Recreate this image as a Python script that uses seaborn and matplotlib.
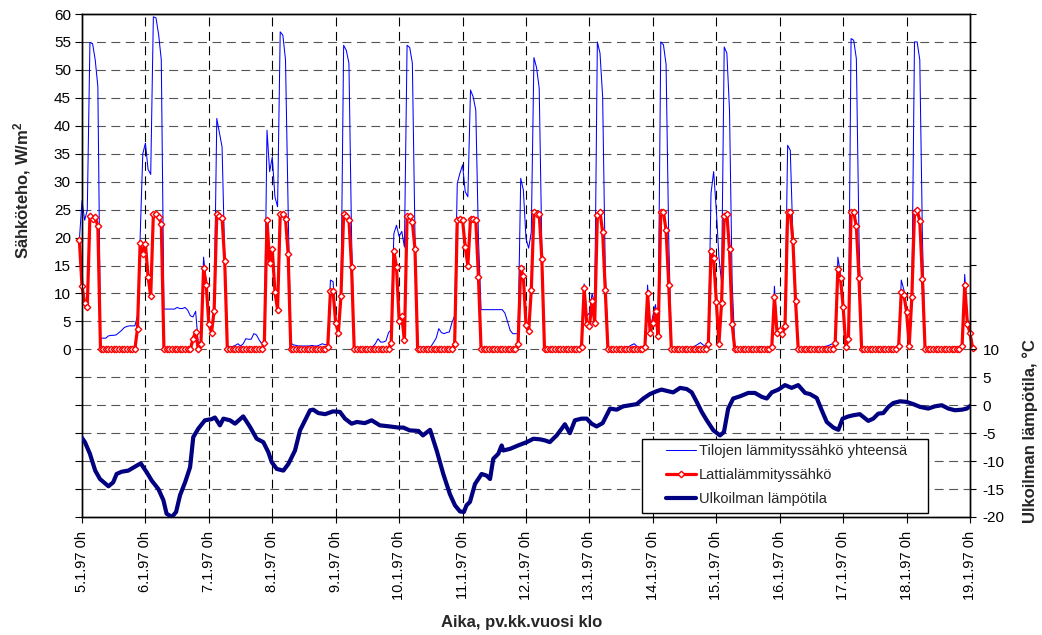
import numpy as np
import matplotlib
matplotlib.use("Agg")
import matplotlib.pyplot as plt
import seaborn as sns
from matplotlib.lines import Line2D
from matplotlib.patches import Rectangle

# hourly readings, first value is 4.1.97 23h, last two are 19.1.97 0h and 1h
floor_heat = [
    19.6,
    # 5.1
    11.3, 8.3, 7.6, 23.9, 23.4, 23.7, 22.0, 0, 0, 0, 0, 0, 0, 0, 0, 0, 0, 0, 0, 0, 0, 3.7, 19.0, 17.1,
    # 6.1
    18.9, 13.0, 9.5, 24.2, 24.2, 23.7, 22.5, 0, 0, 0, 0, 0, 0, 0, 0, 0, 0, 0, 1.9, 3.1, 0, 1.0, 14.5, 11.6,
    # 7.1
    4.5, 3.0, 6.9, 24.2, 23.9, 23.5, 15.8, 0, 0, 0, 0, 0, 0, 0, 0, 0, 0, 0, 0, 0, 0, 1.2, 23.1, 15.5,
    # 8.1
    17.9, 10.3, 7.1, 24.2, 24.2, 23.4, 17.1, 0, 0, 0, 0, 0, 0, 0, 0, 0, 0, 0, 0, 0, 0, 0.5, 10.4, 10.4,
    # 9.1
    4.7, 3.0, 9.6, 24.2, 23.8, 23.2, 14.7, 0, 0, 0, 0, 0, 0, 0, 0, 0, 0, 0, 0, 0, 0, 1.2, 17.6, 14.7,
    # 10.1
    5.1, 5.9, 1.6, 23.8, 23.8, 22.8, 17.9, 0, 0, 0, 0, 0, 0, 0, 0, 0, 0, 0, 0, 0, 0, 1.0, 23.1, 23.4,
    # 11.1
    23.1, 18.3, 15.0, 23.4, 23.3, 23.1, 13.0, 0, 0, 0, 0, 0, 0, 0, 0, 0, 0, 0, 0, 0, 0, 1.0, 14.5, 13.1,
    # 12.1
    4.4, 3.2, 10.6, 24.6, 24.2, 24.2, 16.1, 0, 0, 0, 0, 0, 0, 0, 0, 0, 0, 0, 0, 0, 0, 0.5, 11.0, 4.5,
    # 13.1
    4.1, 8.7, 4.7, 24.0, 24.6, 21.0, 10.6, 0, 0, 0, 0, 0, 0, 0, 0, 0, 0, 0, 0, 0, 0, 0.5, 10.0, 2.9,
    # 14.1
    4.7, 6.8, 2.4, 24.6, 24.6, 21.3, 11.6, 0, 0, 0, 0, 0, 0, 0, 0, 0, 0, 0, 0, 0, 0, 1.0, 17.6, 16.3,
    # 15.1
    8.5, 1.0, 8.3, 23.8, 24.2, 17.9, 4.5, 0, 0, 0, 0, 0, 0, 0, 0, 0, 0, 0, 0, 0, 0, 0.5, 9.4, 2.9,
    # 16.1
    3.4, 2.8, 4.1, 24.5, 24.6, 19.3, 8.6, 0, 0, 0, 0, 0, 0, 0, 0, 0, 0, 0, 0, 0, 0, 1.1, 14.4, 12.7,
    # 17.1
    7.6, 0.5, 1.8, 24.5, 24.5, 22.0, 12.7, 0, 0, 0, 0, 0, 0, 0, 0, 0, 0, 0, 0, 0, 0, 0.6, 10.3, 9.7,
    # 18.1
    6.7, 0.6, 9.4, 24.5, 24.9, 23.0, 12.6, 0, 0, 0, 0, 0, 0, 0, 0, 0, 0, 0, 0, 0, 0, 0.6, 11.6, 4.6,
    # 19.1
    2.9, 0.2,
]

total_heat = [
    19.5,
    # 5.1
    26.6, 23.1, 24.9, 54.9, 54.7, 51.8, 47.0, 2.0, 2.0, 2.0, 2.4, 2.5, 2.5, 2.6, 3.0, 3.4, 3.9, 4.1, 4.2, 4.2, 4.2, 6.0, 20.0, 35.0,
    # 6.1
    36.9, 32.2, 31.3, 59.5, 59.3, 56.3, 51.8, 7.2, 7.2, 7.2, 7.2, 7.2, 7.5, 7.3, 7.3, 7.5, 7.0, 6.0, 5.8, 6.8, 1.0, 1.5, 16.5, 12.0,
    # 7.1
    5.0, 3.5, 7.2, 41.3, 38.7, 36.2, 16.5, 0.5, 0.5, 0.5, 0.7, 1.0, 0.6, 1.0, 1.9, 1.8, 1.8, 2.8, 2.6, 1.7, 1.0, 1.5, 39.2, 31.8,
    # 8.1
    34.4, 27.3, 25.5, 56.8, 56.2, 51.8, 25.0, 1.1, 0.8, 0.7, 0.6, 0.6, 0.6, 0.6, 0.6, 0.7, 0.6, 0.6, 0.8, 1.0, 0.8, 1.0, 12.4, 12.1,
    # 9.1
    5.5, 3.5, 10.0, 54.4, 53.5, 51.2, 20.0, 0.4, 0.3, 0.3, 0.3, 0.3, 0.3, 0.4, 0.5, 1.0, 1.9, 1.3, 1.3, 1.5, 3.0, 3.5, 20.7, 22.2,
    # 10.1
    20.2, 21.1, 18.3, 54.4, 54.0, 51.2, 20.0, 0.5, 0.4, 0.4, 0.4, 0.4, 0.5, 1.2, 2.0, 3.7, 3.0, 2.8, 3.0, 3.1, 4.8, 6.0, 29.7, 31.5,
    # 11.1
    33.0, 28.2, 27.3, 46.4, 45.2, 42.8, 20.0, 7.1, 7.1, 7.1, 7.1, 7.1, 7.1, 7.1, 7.1, 7.1, 6.5, 5.0, 3.4, 2.8, 2.8, 2.8, 30.6, 28.5,
    # 12.1
    19.8, 18.1, 21.0, 52.2, 50.4, 46.7, 18.0, 0.3, 0.3, 0.3, 0.3, 0.3, 0.3, 0.3, 0.3, 0.3, 0.3, 0.3, 0.4, 0.3, 0.4, 0.8, 11.7, 6.0,
    # 13.1
    6.5, 10.0, 8.0, 55.0, 53.0, 45.2, 14.0, 0.3, 0.3, 0.3, 0.3, 0.3, 0.3, 0.3, 0.4, 0.5, 0.8, 1.0, 0.5, 0.3, 0.4, 0.8, 11.5, 3.5,
    # 14.1
    6.0, 8.0, 4.0, 55.0, 54.5, 51.0, 20.0, 0.4, 0.3, 0.3, 0.3, 0.3, 0.3, 0.3, 0.3, 0.4, 0.6, 0.9, 1.2, 0.8, 0.5, 1.2, 27.9, 31.8,
    # 15.1
    25.0, 16.5, 12.0, 54.1, 53.0, 42.8, 12.0, 0.5, 0.3, 0.3, 0.3, 0.3, 0.3, 0.3, 0.3, 0.3, 0.4, 0.5, 0.4, 0.3, 0.4, 0.8, 11.3, 3.5,
    # 16.1
    3.7, 3.0, 5.0, 36.5, 35.6, 19.8, 9.0, 0.3, 0.3, 0.3, 0.3, 0.3, 0.3, 0.3, 0.3, 0.3, 0.4, 0.5, 0.6, 0.8, 1.0, 1.2, 16.5, 13.5,
    # 17.1
    8.0, 1.0, 2.5, 55.6, 55.3, 52.0, 20.0, 0.3, 0.3, 0.3, 0.3, 0.3, 0.3, 0.3, 0.3, 0.3, 0.3, 0.4, 0.4, 0.3, 0.4, 0.8, 12.4, 10.6,
    # 18.1
    7.0, 1.0, 10.0, 55.0, 55.0, 51.8, 20.0, 0.3, 0.3, 0.3, 0.3, 0.3, 0.3, 0.3, 0.3, 0.3, 0.3, 0.4, 0.5, 0.4, 0.4, 0.8, 13.4, 5.5,
    # 19.1
    4.0, 0.5,
]

# outdoor temperature, read at irregular hours (hour 0 = 5.1.97 0h)
temp_hours = [-1, 1.1, 3, 5, 6.8, 10, 11.8, 13.1, 15, 17.5, 20, 22.2, 24.5, 26.4, 28.9, 30.8, 32,
              34, 35.6, 37.1, 39, 40.9, 42.1, 44, 46.5, 49, 50.3, 52.2, 53.5, 56, 57.9, 61, 63.6,
              66.1, 68.6, 70.5, 71.8, 73.7, 76.2, 78.1, 80.6, 82.5, 84.4, 86.3, 87.5, 89.4, 92, 95,
              97.6, 99.5, 102, 104, 107, 109.6, 112.7, 116.5, 119.7, 121.6, 124, 127.3, 129, 131.7,
              134.2, 136.7, 139.2, 141.1, 143, 144.5, 145.5, 146.8, 148.7, 151.2, 153.1, 154.4,
              155.6, 157.5, 158.8, 159.4, 162, 165, 168.3, 170.8, 173.3, 175.2, 177, 179.6, 181.5,
              182.7, 184.6, 186.5, 189, 191, 192.8, 194.7, 197, 199.8, 202.3, 204.8, 207.3, 209.9,
              212.4, 214.9, 217.4, 219.3, 221.8, 223.7, 226.3, 228.8, 230.7, 232.6, 234.5, 236.4,
              238.9, 241.4, 242.9, 244.5, 246.4, 249, 252.1, 254.6, 257.2, 259.1, 261, 263.5, 266,
              268.5, 271, 273.6, 275.4, 278, 279.9, 281.8, 284.3, 286.2, 287.8, 290, 291.8, 294.3,
              297.5, 299.4, 301.3, 303.2, 305.1, 307, 309.5, 312, 314.5, 317.1, 320.2, 322.7, 325.3,
              327.8, 330.3, 332.9, 334.8, 337]
temp_values = [-5.2, -6.6, -8.7, -11.7, -13.2, -14.5, -13.8, -12.3, -11.9, -11.7, -11.0, -10.4, -12.0,
               -13.5, -15.0, -17.0, -19.4, -20.0, -19.1, -16.1, -13.8, -11.1, -5.7, -4.2, -2.7, -2.5,
               -2.2, -3.6, -2.4, -2.7, -3.3, -2.0, -3.9, -6.0, -6.6, -8.4, -10.2, -11.4, -11.7, -10.5,
               -8.1, -4.5, -2.7, -0.9, -0.8, -1.4, -1.6, -1.1, -1.2, -2.4, -3.3, -3.0, -3.2, -2.7,
               -3.6, -3.8, -4.0, -4.0, -4.5, -4.6, -5.4, -4.4, -8.1, -12.3, -15.9, -17.9, -19.0,
               -19.1, -17.9, -17.3, -14.1, -12.3, -12.6, -13.2, -9.6, -8.7, -7.2, -8.1, -7.8, -7.2,
               -6.6, -6.0, -6.1, -6.3, -6.6, -5.4, -4.2, -3.4, -5.0, -2.7, -2.4, -2.4, -3.3, -3.8,
               -3.2, -0.6, -0.8, -0.2, 0.0, 0.2, 1.2, 2.0, 2.5, 2.8, 2.5, 2.3, 3.1, 2.9, 2.3, 0.6,
               -1.2, -2.7, -4.5, -5.4, -4.8, -0.6, 1.2, 1.6, 2.2, 2.2, 1.5, 1.2, 2.3, 2.8, 3.6, 3.1,
               3.6, 2.2, 2.0, 1.3, -0.9, -3.0, -4.0, -4.4, -2.4, -2.0, -1.8, -1.6, -2.8, -2.4, -1.5,
               -1.4, -0.3, 0.4, 0.7, 0.6, 0.2, -0.3, -0.6, -0.2, 0.0, -0.6, -0.9, -0.8, -0.6, 0.2]

day_labels = ["5.1.97 0h", "6.1.97 0h", "7.1.97 0h", "8.1.97 0h", "9.1.97 0h", "10.1.97 0h",
              "11.1.97 0h", "12.1.97 0h", "13.1.97 0h", "14.1.97 0h", "15.1.97 0h", "16.1.97 0h",
              "17.1.97 0h", "18.1.97 0h", "19.1.97 0h"]

series_names = ["Tilojen lämmityssähkö yhteensä", "Lattialämmityssähkö", "Ulkoilman lämpötila"]

hours = np.arange(-1, len(floor_heat) - 1)
assert len(floor_heat) == len(total_heat) == len(hours)

sns.set_style("ticks")
plt.rcParams['font.family'] = ['Liberation Sans', 'DejaVu Sans']
fs = 10.5      # tick and legend text
fs_lab = 12    # bold axis titles

W, H = 1042, 635
fig = plt.figure(figsize=(W / 100, H / 100), dpi=100)
ax = fig.add_axes([82 / W, 1 - 517 / H, (970 - 82) / W, (517 - 14) / H])
ax2 = ax.twinx()

sns.lineplot(x=hours, y=total_heat, ax=ax, color='#0000ff', linewidth=0.75,
             clip_on=False, zorder=3, legend=False)
sns.lineplot(x=hours, y=floor_heat, ax=ax, color='#ff0000', linewidth=2.3,
             marker='D', markersize=3.3, markerfacecolor='white',
             markeredgecolor='#ff0000', markeredgewidth=1.0,
             clip_on=False, zorder=4, legend=False)
sns.lineplot(x=temp_hours, y=temp_values, ax=ax2, color='#000080', linewidth=3.0,
             zorder=3, legend=False)

ax.set_xlim(0, 336)
ax.set_ylim(-30, 60)
ax2.set_ylim(-20, 70)

day_ticks = np.arange(0, 337, 24)
ax.set_xticks(day_ticks)
ax.set_xticklabels(day_labels, rotation=90, fontsize=fs)

left_ticks = np.arange(-30, 61, 5)
ax.set_yticks(left_ticks)
ax.set_yticklabels([str(v) if v >= 0 else '' for v in left_ticks], fontsize=fs + 0.5)
right_ticks = np.arange(-20, 71, 5)
ax2.set_yticks(right_ticks)
ax2.set_yticklabels([str(v) if v <= 10 else '' for v in right_ticks], fontsize=fs + 0.5)

ax.tick_params(axis='y', direction='out', length=5, width=0.8, colors='black', pad=3)
ax.tick_params(axis='x', direction='out', length=4, width=0.8, colors='black', pad=6)
ax2.tick_params(axis='y', direction='out', length=4, width=0.8, colors='black', pad=5)

ax.grid(False)
ax2.grid(False)
for v in left_ticks[1:-1]:
    ax.axhline(v, color='#555555', linewidth=0.8, linestyle=(0, (8, 5)), zorder=1)
for d in day_ticks[1:-1]:
    ax.axvline(d, color='black', linewidth=0.8, linestyle=(0, (8, 5)), zorder=1)

for a in (ax, ax2):
    for s in a.spines.values():
        s.set_visible(True)
        s.set_color('black')
        s.set_linewidth(1.0)

fig.text(22 / W, 1 - 190 / H, 'Sähköteho, W/m$\\mathregular{^2}$', rotation=90,
         ha='center', va='center', fontsize=fs_lab, fontweight='bold')
fig.text(1030 / W, 1 - 431 / H, 'Ulkoilman lämpötila, °C', rotation=90,
         ha='center', va='center', fontsize=fs_lab, fontweight='bold')
fig.text(522 / W, 1 - 622 / H, 'Aika, pv.kk.vuosi klo',
         ha='center', va='center', fontsize=fs_lab, fontweight='bold')

# legend box
box = Rectangle((642 / W, 1 - 513 / H), 286 / W, 74 / H, transform=fig.transFigure,
                facecolor='white', edgecolor='black', linewidth=1.0, zorder=8)
ax2.add_artist(box)
handles = [
    Line2D([], [], color='#0000ff', linewidth=0.75),
    Line2D([], [], color='#ff0000', linewidth=2.3, marker='D', markersize=3.3,
           markerfacecolor='white', markeredgecolor='#ff0000', markeredgewidth=1.0),
    Line2D([], [], color='#000080', linewidth=3.0),
]
fs_px = fs * 100 / 72
leg = ax2.legend(handles, series_names, loc='upper left',
                 bbox_to_anchor=(666 / W, 1 - 444 / H), bbox_transform=fig.transFigure,
                 frameon=False, fontsize=fs, borderpad=0, borderaxespad=0,
                 handlelength=30 / fs_px, handletextpad=3 / fs_px, labelspacing=0.68)
leg.set_zorder(9)

fig.savefig('out.png', dpi=100)
